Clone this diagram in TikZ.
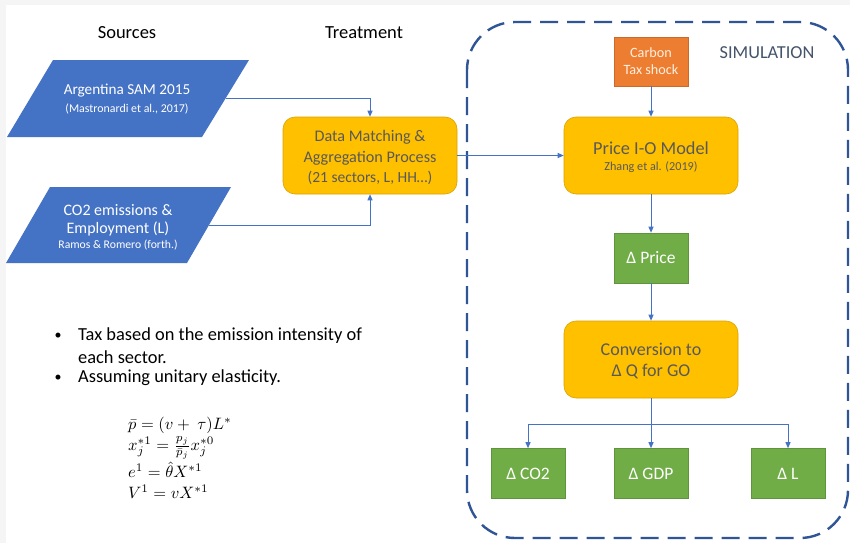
\documentclass[tikz,border=0pt]{standalone}
\usepackage{fontspec}
\setmainfont{Carlito}
\usepackage{amsmath}
\usepackage{graphicx}
\usetikzlibrary{arrows.meta,calc}
\definecolor{myblue}{HTML}{4472C4}
\definecolor{myorange}{HTML}{ED7D31}
\definecolor{myyellow}{HTML}{FFC000}
\definecolor{mygreen}{HTML}{70AD47}
\definecolor{dashblue}{HTML}{2F5597}
\definecolor{yeltext}{HTML}{595959}
\definecolor{simtext}{HTML}{44546A}
\definecolor{margingray}{HTML}{F5F5F5}
\tikzset{
  fs/.style={font=\fontsize{#1}{#1}\selectfont},
  arr/.style={draw=myblue, line width=0.9pt, -{Triangle[length=6pt,width=5pt]}},
  yelbox/.style={draw=myyellow!85!black, line width=0.6pt, fill=myyellow, rounded corners=12pt,
     minimum width=174pt, minimum height=77pt, inner sep=0pt, align=center, text=yeltext},
  grnbox/.style={draw=mygreen!85!black, line width=0.6pt, fill=mygreen, minimum width=74pt,
     minimum height=50pt, inner sep=0pt, align=center, text=white, fs=17.5},
  orgbox/.style={draw=myorange!85!black, line width=0.6pt, fill=myorange, minimum width=74pt,
     minimum height=49pt, inner sep=0pt, align=center, text=orange!15!white},
  para/.style={fill=myblue},
  wtxt/.style={text=white, inner sep=0pt},
  mathtxt/.style={inner sep=0pt, anchor=west},
}
\newcommand{\bigmath}[1]{\scalebox{1.65}{$#1$}}
\begin{document}
\begin{tikzpicture}[x=1pt,y=-1pt]
\useasboundingbox (0,0) rectangle (850,543);
\fill[margingray] (0,0) rectangle (850,543);
\fill[white] (6,5) rectangle (850,543);

% titles
\node[fs=18.5, inner sep=0pt] (tsrc) at (127,33) {Sources};
\node[fs=18.5, inner sep=0pt] (ttreat) at (364,33) {Treatment};

% parallelograms
\fill[para] (53,60) -- (249,60) -- (202,137) -- (7,137) -- cycle;
\fill[para] (50,187) -- (231,187) -- (187,263) -- (6,263) -- cycle;
\node[wtxt, fs=15.2] (p1a) at (127,91) {Argentina SAM 2015};
\node[wtxt, fs=11.9] (p1b) at (127,109) {(Mastronardi et al., 2017)};
\node[wtxt, fs=16] (p2a) at (118,210) {CO2 emissions \&};
\node[wtxt, fs=16] (p2b) at (118,229) {Employment (L)};
\node[wtxt, fs=11.7] (p2c) at (118,245) {Ramos \& Romero (forth.)};
\coordinate (p1r) at (226,98);
\coordinate (p2r) at (209,225);

% treatment box
\node[yelbox] (dm) at (370,155.5) {};
\node[text=yeltext, fs=16.2, inner sep=0pt] (dma) at (370,137) {Data Matching \&};
\node[text=yeltext, fs=16.2, inner sep=0pt] (dmb) at (370,158) {Aggregation Process};
\node[text=yeltext, fs=15.5, inner sep=0pt] (dmc) at (370,178) {(21 sectors, L, HH…)};

% simulation frame
\draw[dashblue, line width=2.4pt, dash pattern=on 18pt off 9pt, rounded corners=48pt]
  (467,22) rectangle (848,538);
\node[text=simtext, fs=18.3, inner sep=0pt] (sim) at (767,53) {SIMULATION};

% carbon tax
\node[orgbox] (carbon) at (651,61.5) {};
\node[text=orange!12!white, fs=14.2, inner sep=0pt] (ca) at (651,53) {Carbon};
\node[text=orange!12!white, fs=14.2, inner sep=0pt] (cb) at (651,70) {Tax shock};

% price model
\node[yelbox] (price) at (651,155.5) {};
\node[text=yeltext, fs=18.3, inner sep=0pt] (pra) at (651,148) {Price I-O Model};
\node[text=yeltext, fs=12.2, inner sep=0pt] (prb) at (651,167) {Zhang et al. (2019)};

\node[grnbox] (dprice) at (651,258) {Δ Price};

\node[yelbox] (conv) at (651,359.5) {};
\node[text=yeltext, fs=18, inner sep=0pt] (cva) at (651,349) {Conversion to};
\node[text=yeltext, fs=18, inner sep=0pt] (cvb) at (651,372) {Δ Q for GO};

\node[grnbox] (co2) at (528,473.5) {Δ CO2};
\node[grnbox] (gdp) at (651,473.5) {Δ GDP};
\node[grnbox] (dl) at (788,473.5) {Δ L};
\coordinate (br) at (651,424);

% connectors
\draw[arr] (p1r) -| (dm.north);
\draw[arr] (p2r) -| (dm.south);
\draw[arr] (dm.east) -- (price.west);
\draw[arr] (carbon.south) -- (price.north);
\draw[arr] (price.south) -- (dprice.north);
\draw[arr] (dprice.south) -- (conv.north);
\draw[arr] (conv.south) -- (gdp.north);
\draw[arr] (br) -| (co2.north);
\draw[arr] (br) -| (dl.north);

% bullets
\node[fs=14, inner sep=0pt] (b1) at (58,336) {•};
\node[fs=18.4, inner sep=0pt, anchor=west] (t1) at (78,336) {Tax based on the emission intensity of};
\node[fs=18.4, inner sep=0pt, anchor=west] (t2) at (78,357) {each sector.};
\node[fs=14, inner sep=0pt] (b2) at (58,378) {•};
\node[fs=18.4, inner sep=0pt, anchor=west] (t3) at (78,378) {Assuming unitary elasticity.};

% formulas
\node[mathtxt] (f1) at (128,425) {\bigmath{\bar{p} = (v+\ \tau)L^{*}}};
\node[mathtxt] (f2) at (128,448) {\bigmath{x_j^{*1} = \tfrac{p_j}{\bar{p}_j}x_j^{*0}}};
\node[mathtxt] (f3) at (128,470) {\bigmath{e^{1} = \hat{\theta}X^{*1}}};
\node[mathtxt] (f4) at (128,492) {\bigmath{V^{1} = vX^{*1}}};
\end{tikzpicture}
\end{document}
